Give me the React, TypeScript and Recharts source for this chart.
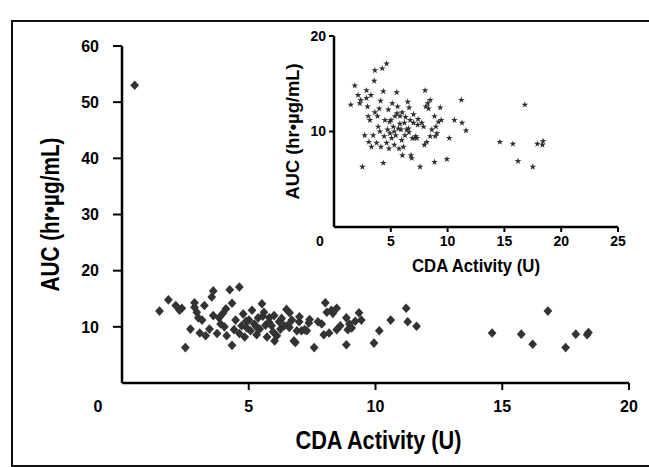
import React from 'react';
import { ScatterChart, Scatter, XAxis, YAxis, Symbols } from 'recharts';

const cdaActivity = [
  1.48, 1.83, 2.12, 2.27, 2.36, 2.5, 2.7, 2.86, 2.86, 2.95, 3.01, 3.07, 3.16, 3.25, 3.3, 3.45,
  3.54, 3.6, 3.75, 3.83, 3.89, 3.98, 4.04, 4.13, 4.25, 4.34, 4.34, 4.42, 4.48, 4.63, 4.63, 4.72,
  4.78, 4.84, 4.93, 5.01, 5.07, 5.13, 5.22, 5.31, 5.37, 5.43, 5.52, 5.55, 5.6, 5.66, 5.72, 5.81,
  5.9, 5.96, 6.02, 6.11, 6.2, 6.25, 6.4, 6.49, 6.55, 6.61, 6.7, 6.78, 6.84, 6.9, 6.99, 7.08,
  7.2, 7.29, 7.37, 7.58, 7.73, 7.88, 7.96, 8.02, 8.08, 8.17, 8.26, 8.32, 8.47, 8.47, 8.61, 8.85,
  8.85, 8.91, 8.97, 9.06, 9.2, 9.35, 9.44, 9.94, 10.15, 10.6, 11.21, 11.27, 11.62, 14.6, 15.75,
  16.2, 16.8, 17.5, 17.9, 18.4, 18.35, 0.5, 5.8, 6.3, 4.9, 5.3, 6.6, 7.4, 3.6, 4.1, 6.0, 7.0,
];
const auc = [
  12.8, 14.8, 13.8, 12.95, 13.3, 6.3, 9.6, 14.3, 13.5, 12.6, 11.6, 8.9, 11.2, 13.8, 8.4, 9.6,
  15.3, 16.4, 8.8, 11.6, 10.5, 12.4, 10.0, 8.4, 16.6, 14.2, 6.7, 9.5, 11.2, 17.1, 8.8, 10.2,
  12.3, 8.2, 9.8, 11.2, 9.3, 12.95, 10.5, 8.6, 11.6, 9.6, 14.1, 11.9, 12.6, 10.3, 8.2, 11.6,
  10.2, 9.1, 7.5, 8.4, 10.9, 9.6, 10.2, 13.1, 10.3, 12.5, 11.2, 7.5, 7.2, 9.3, 10.9, 9.3,
  9.5, 9.3, 10.7, 6.3, 10.9, 10.5, 8.6, 14.3, 12.6, 8.9, 12.95, 12.4, 13.3, 9.5, 10.2, 11.6,
  6.8, 9.5, 10.5, 9.8, 11.0, 12.5, 11.2, 7.1, 9.3, 11.2, 13.3, 10.9, 10.1, 8.9, 8.7,
  6.9, 12.8, 6.3, 8.7, 9.0, 8.6, 53, 10.8, 11.5, 11.0, 10.0, 9.9, 11.3, 12.0, 13.2, 12.0, 11.8,
];

const mainXTicks = [0, 5, 10, 15, 20];
const mainYTicks = [10, 20, 30, 40, 50, 60];
const insetXTicks = [0, 5, 10, 15, 20, 25];
const insetYTicks = [10, 20];
const xTitle = 'CDA Activity (U)';
const yTitle = 'AUC (hr\u2022\u00b5g/mL)';

const FONT = "'Liberation Sans', Arial, sans-serif";

const points = cdaActivity.map((x, i) => ({ x, y: auc[i] }));
const insetPoints = points.filter((p) => p.y <= 20);

const textStyle = (fontSize: number) => ({
  fontFamily: FONT,
  fontWeight: 'bold' as const,
  fontSize,
  fill: '#000',
});

const makeXTick = (fontSize: number, margin: number, tickLen: number, originShift: number) => (props: any) => {
  const { x, y, payload } = props;
  const isOrigin = payload.value === 0;
  const axisY = y - margin;
  return (
    <g>
      {!isOrigin && (
        <line x1={x} y1={axisY} x2={x} y2={axisY + tickLen} stroke="#000" strokeWidth={2} />
      )}
      <text
        x={isOrigin ? x + originShift : x}
        y={y}
        dy="0.71em"
        textAnchor="middle"
        style={textStyle(fontSize)}
      >
        {payload.value}
      </text>
    </g>
  );
};

const MainXTick = makeXTick(16, 18, 7, -24);
const InsetXTick = makeXTick(14, 9, 5, -14);

const makeXTitle = (fontSize: number, len: number, dx: number, dy: number) => (props: any) => {
  const vb = props.viewBox;
  const x = vb.x + vb.width / 2 + dx;
  const y = vb.y + vb.height + dy;
  return (
    <text
      x={x}
      y={y}
      textAnchor="middle"
      dominantBaseline="central"
      textLength={len}
      lengthAdjust="spacingAndGlyphs"
      style={textStyle(fontSize)}
    >
      {xTitle}
    </text>
  );
};

const makeYTitle = (fontSize: number, len: number, dx: number, dy: number) => (props: any) => {
  const vb = props.viewBox;
  const x = vb.x + dx;
  const y = vb.y + vb.height / 2 + dy;
  return (
    <text
      x={x}
      y={y}
      transform={`rotate(-90, ${x}, ${y})`}
      textAnchor="middle"
      dominantBaseline="central"
      textLength={len}
      lengthAdjust="spacingAndGlyphs"
      style={textStyle(fontSize)}
    >
      {yTitle}
    </text>
  );
};

const MainXTitle = makeXTitle(26, 166, 3, 27);
const MainYTitle = makeYTitle(25, 154, 8, 0);
const InsetXTitle = makeXTitle(19, 128, 0, 8);
const InsetYTitle = makeYTitle(18, 136, 39, 0);

const MainMarker = (props: any) => {
  const { cx, cy } = props;
  return (
    <path
      d={`M${cx},${cy - 4.8}L${cx + 4.4},${cy}L${cx},${cy + 4.8}L${cx - 4.4},${cy}Z`}
      fill="#333"
    />
  );
};

const InsetMarker = (props: any) => {
  const { cx, cy } = props;
  return <Symbols cx={cx} cy={cy} type="star" size={14} fill="#2f2f2f" />;
};

export default function App() {
  return (
    <div
      style={{
        position: 'absolute',
        left: 0,
        top: 0,
        width: 649,
        height: 467,
        overflow: 'hidden',
        background: '#fff',
      }}
    >
      <div
        style={{
          position: 'absolute',
          left: 11,
          top: 20,
          width: 700,
          height: 443,
          borderLeft: '2px solid #111',
          borderTop: '2px solid #111',
          borderBottom: '2px solid #111',
        }}
      />
      <div style={{ position: 'absolute', left: 0, top: 0 }}>
        <ScatterChart width={649} height={467} margin={{ top: 46, right: 20, bottom: 54, left: 42 }}>
          <XAxis
            type="number"
            dataKey="x"
            domain={[0, 20]}
            ticks={mainXTicks}
            interval={0}
            height={30}
            tickSize={0}
            tickMargin={18}
            tickLine={false}
            axisLine={{ stroke: '#000', strokeWidth: 2.5 }}
            tick={MainXTick}
            label={{ content: MainXTitle }}
          />
          <YAxis
            type="number"
            dataKey="y"
            domain={[0, 60]}
            ticks={mainYTicks}
            interval={0}
            width={80}
            tickSize={9}
            tickMargin={14}
            tickLine={{ stroke: '#000', strokeWidth: 2 }}
            axisLine={{ stroke: '#000', strokeWidth: 2.5 }}
            tick={textStyle(16)}
            label={{ content: MainYTitle }}
          />
          <Scatter data={points} shape={MainMarker} isAnimationActive={false} />
        </ScatterChart>
      </div>
      <div style={{ position: 'absolute', left: 0, top: 0 }}>
        <ScatterChart width={649} height={300} margin={{ top: 36, right: 31, bottom: 43, left: 254 }}>
          <XAxis
            type="number"
            dataKey="x"
            domain={[0, 25]}
            ticks={insetXTicks}
            interval={0}
            height={30}
            tickSize={0}
            tickMargin={9}
            tickLine={false}
            axisLine={{ stroke: '#000', strokeWidth: 2.5 }}
            tick={InsetXTick}
            label={{ content: InsetXTitle }}
          />
          <YAxis
            type="number"
            dataKey="y"
            domain={[0, 20]}
            ticks={insetYTicks}
            interval={0}
            width={80}
            tickSize={5}
            tickMargin={3}
            tickLine={{ stroke: '#000', strokeWidth: 2 }}
            axisLine={{ stroke: '#000', strokeWidth: 2.5 }}
            tick={textStyle(14)}
            label={{ content: InsetYTitle }}
          />
          <Scatter data={insetPoints} shape={InsetMarker} isAnimationActive={false} />
        </ScatterChart>
      </div>
    </div>
  );
}
